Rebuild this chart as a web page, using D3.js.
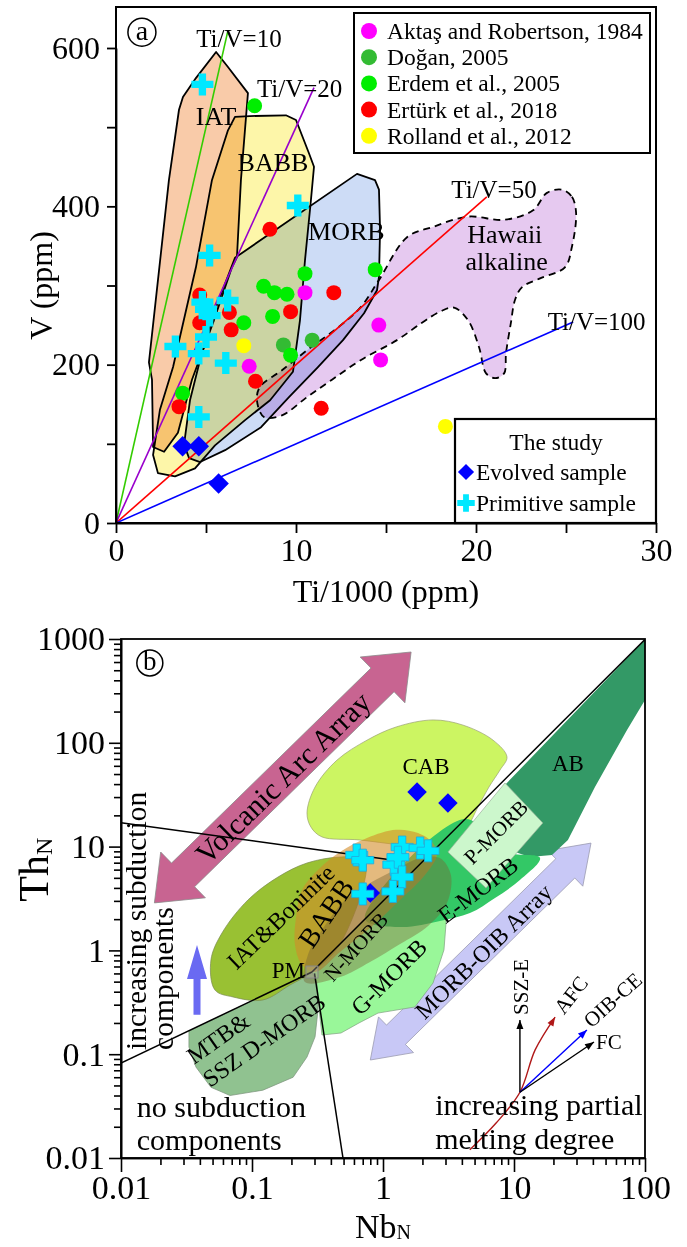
<!DOCTYPE html>
<html><head><meta charset="utf-8">
<script src="https://cdn.jsdelivr.net/npm/d3@7/dist/d3.min.js"></script>
<style>
body{margin:0;background:#fff;}
svg{display:block;}
</style></head><body>
<script>
// ================= PANEL (a) DATA : Ti/1000 (ppm) vs V (ppm) =================
const legendNamesA = ["Aktaş and Robertson, 1984","Doğan, 2005","Erdem et al., 2005","Ertürk et al., 2018","Rolland et al., 2012"];
const legendColorsA = ["#ff00ff","#33bb33","#00ee00","#ff0000","#ffff00"];
const aktas   = [[10.5,291],[14.6,250],[14.7,206],[7.4,198]];
const dogan   = [[9.3,225],[10.9,231]];
const erdem   = [[7.7,527],[10.5,315],[14.4,320],[8.2,299],[8.8,291],[9.5,289],[8.7,261],[7.1,253],[9.7,212],[3.7,164]];
const erturk  = [[8.55,371],[12.1,291],[9.7,267],[4.65,288],[6.3,266],[4.65,253],[6.4,244],[7.75,179],[3.5,147],[11.4,145]];
const rolland = [[7.1,224],[18.3,122]];
const evolvedA   = [[3.7,97],[4.6,97],[5.7,50]];
const primitiveA = [[4.8,554],[10.1,401],[5.2,338],[4.8,279],[6.2,281],[5.0,270],[5.2,262],[5.0,235],[3.3,223],[4.6,214],[6.1,202],[4.6,134]];
const xTicksA = [0,5,10,15,20,25,30];
const yTicksA = [0,100,200,300,400,500,600];
const tivRatios = [10,20,50,100];
const tivEndX   = [6.2,11.0,20.6,25.4];
const tivColors = ["#33cc00","#9900cc","#ff0000","#0000ff"];
const tivLabelPos = [[6.83,612],[10.2,549],[21.0,421],[26.7,254]];
const iatPoly = [[5.56,595],[6.22,576],[7.33,543],[6.94,433],[6.72,336],[6.44,323],[5.44,256],[4.22,181],[3.44,114],[2.67,90],[2.06,96],[2.0,181],[1.83,203],[2.94,433],[3.5,522],[3.72,538],[4.44,562]];
const babbPoly = [[6.61,513],[7.44,514],[9.44,515],[10.0,509],[10.72,467],[11.0,450],[10.83,408],[10.5,332],[10.22,256],[10.0,219],[9.83,191],[8.56,155],[7.17,130],[5.5,98],[4.39,69],[3.28,59],[2.33,63],[2.06,86],[2.44,143],[3.17,197],[4.44,323],[5.33,433],[6.22,496]];
const morbPoly = [[13.39,441],[14.39,433],[14.61,421],[14.67,370],[14.61,311],[14.5,294],[13.78,265],[12.61,231],[11.22,197],[9.61,159],[8.06,121],[6.06,92],[4.67,77],[4.06,82],[3.78,99],[4.11,155],[4.67,206],[5.5,269],[6.61,335]];
const hawaiiPoly = [[24.78,421],[25.33,412],[25.56,392],[25.33,349],[24.94,323],[23.56,309],[22.56,298],[22.17,282],[21.94,253],[21.67,215],[21.56,189],[21.06,183],[20.56,189],[20.17,222],[19.56,256],[18.78,272],[18.0,267],[17.0,253],[15.61,231],[13.61,206],[12.0,181],[10.61,159],[9.22,136],[8.22,134],[7.83,155],[8.0,172],[9.22,193],[10.83,222],[12.39,248],[13.61,273],[14.61,307],[16.17,361],[17.61,374],[19.56,387],[21.56,383],[23.17,395],[23.94,417]];
const regionLabelsA = [["IAT",5.56,513],["BABB",8.72,455],["MORB",12.8,368],["Hawaii",21.6,364],["alkaline",21.7,330]];

// ================= PANEL (b) DATA : NbN vs ThN (log-log) =================
const xTicksB = [0.01,0.1,1,10,100];
const yTicksB = [0.01,0.1,1,10,100,1000];
const primitiveB = [[0.63,8.3],[0.70,7.4],[1.40,9.9],[1.92,9.7],[2.21,9.1],[1.21,6.7],[1.30,7.9],[1.40,5.1],[0.70,3.5],[1.19,3.7]];
const evolvedB   = [[1.82,33.6],[3.13,26.3],[0.80,3.57]];
const cabPoly  = [[0.263,21.1],[0.303,37.5],[0.445,68],[0.755,106],[1.26,142],[2.41,166],[4.08,148],[6.92,106],[8.84,73],[7.82,54.7],[6.44,37.5],[5.31,24.1],[4.38,15.4],[3.36,11.6],[2.41,9.91],[1.35,10.4],[0.656,11.6],[0.342,12.4],[0.282,15.4]];
const abPoly   = [[100,990],[100,258],[72.9,133],[41.5,37.5],[25.8,11.6],[19.5,8.3],[13.2,7.94],[10.2,8.87],[7.82,35]];
const pmorbPoly= [[3.13,8.87],[8.53,41],[16.6,16.9],[6.11,3.99]];
const emorbPoly= [[4.23,18.4],[8.53,8.87],[15.8,7.76],[11.1,4.76],[7.16,3.2],[4.61,2.29],[2.72,1.92],[1.35,1.68],[0.729,2.01]];
const gmorbPoly= [[0.287,0.619],[2.97,11.6],[3.03,1.84],[2.92,1.01],[2.41,0.485],[1.75,0.285],[0.916,0.249],[0.656,0.2],[0.478,0.16],[0.342,0.153],[0.319,0.333]];
const nmorbPoly= [[0.254,0.496],[0.47,0.554],[0.796,0.773],[1.35,1.15],[2.21,1.72],[3.08,2.86],[3.30,5.32],[2.72,7.76],[1.92,7.76],[1.24,5.96],[0.796,4.46],[0.513,3.06],[0.342,1.57],[0.267,0.904]];
const mtbPoly  = [[0.033,0.167],[0.287,0.619],[0.313,0.485],[0.319,0.267],[0.303,0.147],[0.263,0.094],[0.206,0.060],[0.121,0.045],[0.068,0.040],[0.0486,0.048],[0.0374,0.075],[0.033,0.117]];
const iatbPoly = [[0.0522,0.415],[0.0486,0.81],[0.059,1.47],[0.0931,3.06],[0.158,5.09],[0.263,6.95],[0.478,7.94],[0.729,7.43],[0.47,1.15],[0.287,0.619],[0.195,0.464],[0.121,0.333],[0.0716,0.356]];
const babbbPoly= [[0.217,2.10],[0.241,3.82],[0.319,5.96],[0.47,8.87],[0.755,12.1],[1.26,14.5],[1.85,13.5],[2.41,10.8],[2.58,8.3],[2.09,5.32],[1.35,3.06],[0.796,1.64],[0.47,0.966],[0.303,0.619],[0.241,0.723],[0.213,1.13]];
const pmPoint = [0.287,0.619];
const lineUpper = [[0.01,17],[1.1,7.5]];
const lineLowerDiag = [[0.01,0.082],[0.287,0.619]];
const lineUpperDiag = [[0.287,0.619],[100,990]];
const lineDown = [[0.30,0.60],[0.495,0.01]];
const volcanicArrow = [[0.018,2.87],[1.64,750]];
const morbOibArrow  = [[0.80,0.088],[38.7,10.8]];
const subductionArrow = [[0.038,0.24],[0.038,1.13]];
const vecOrigin = [11.1,0.043];
const vecSSZE = [11.1,0.214];
const vecOIBCE = [36,0.171];
const vecFC = [40.8,0.131];
const vecAFC = [[4.6,0.012],[7.3,0.0217],[11.1,0.043],[14.5,0.11],[20.6,0.228]];
const regionLabelsB = [
  ["CAB",2.13,58.5,0,23],["AB",25.8,63.8,0,23],["P-MORB",7.3,13.8,-45,21],["E-MORB",5.31,3.82,-37,24],
  ["IAT&Boninite",0.166,2.1,-44,24],["BABB",0.367,2.29,-56,28],["N-MORB",0.622,1.08,-48,21],["G-MORB",1.11,0.554,-45,24]
];

// ================= DRAWING =================
const W=687,H=1247;
const svg=d3.select("body").append("svg").attr("width",W).attr("height",H)
  .style("font-family","'Liberation Serif','Times New Roman',serif");

// ---------- Panel a ----------
const xA=d3.scaleLinear().domain([0,30]).range([116,656]);
const yA=d3.scaleLinear().domain([0,600]).range([523,48]);
const topA=7;
svg.append("clipPath").attr("id","clipA").append("rect")
  .attr("x",xA(0)).attr("y",topA).attr("width",xA(30)-xA(0)).attr("height",yA(0)-topA);
const gA=svg.append("g").attr("clip-path","url(#clipA)").style("isolation","isolate");
const lineA=d3.line().x(d=>xA(d[0])).y(d=>yA(d[1]));
const polysA=[
  {p:iatPoly,fill:"#f9cba9",curve:d3.curveLinearClosed,dash:null},
  {p:babbPoly,fill:"#fdf6a9",curve:d3.curveLinearClosed,dash:null},
  {p:morbPoly,fill:"#cddcf6",curve:d3.curveLinearClosed,dash:null},
  {p:hawaiiPoly,fill:"#e6c9f0",curve:d3.curveCatmullRomClosed.alpha(0.5),dash:"7,5"}
];
polysA.forEach(o=>{
  gA.append("path").attr("d",lineA.curve(o.curve)(o.p)).attr("fill",o.fill)
    .attr("stroke","#000").attr("stroke-width",1.8).attr("stroke-dasharray",o.dash)
    .attr("stroke-linejoin","round").style("mix-blend-mode","multiply");
});
lineA.curve(d3.curveLinear);
tivRatios.forEach((r,i)=>{
  gA.append("path").attr("d",lineA([[0,0],[tivEndX[i],1000*tivEndX[i]/r]]))
    .attr("stroke",tivColors[i]).attr("stroke-width",1.6).attr("fill","none");
});
tivRatios.forEach((r,i)=>{
  svg.append("text").attr("x",xA(tivLabelPos[i][0])).attr("y",yA(tivLabelPos[i][1]))
    .attr("text-anchor","middle").attr("dominant-baseline","central").attr("font-size",25).text("Ti/V="+r);
});
regionLabelsA.forEach(l=>{
  gA.append("text").attr("x",xA(l[1])).attr("y",yA(l[2])).attr("text-anchor","middle")
    .attr("dominant-baseline","central").attr("font-size",26).text(l[0]);
});
const seriesA=[aktas,dogan,erdem,erturk,rolland];
seriesA.forEach((s,i)=>{
  gA.selectAll(null).data(s).enter().append("circle").attr("cx",d=>xA(d[0])).attr("cy",d=>yA(d[1]))
    .attr("r",7.5).attr("fill",legendColorsA[i]);
});
const crossSym=d3.symbol().type(d3.symbolCross).size(270);
const sqSym=d3.symbol().type(d3.symbolSquare).size(210);
gA.selectAll(null).data(primitiveA).enter().append("path").attr("d",crossSym)
  .attr("transform",d=>`translate(${xA(d[0])},${yA(d[1])})`).attr("fill","#00e8ff");
gA.selectAll(null).data(evolvedA).enter().append("path").attr("d",sqSym)
  .attr("transform",d=>`translate(${xA(d[0])},${yA(d[1])}) rotate(45)`).attr("fill","#0000ff");

const axAx=svg.append("g").attr("transform",`translate(0,${yA(0)})`)
  .call(d3.axisBottom(xA).tickValues(xTicksA).tickSize(10).tickSizeOuter(0).tickPadding(5)
  .tickFormat(d=>d%10===0?d:""));
const axAy=svg.append("g").attr("transform",`translate(${xA(0)},0)`)
  .call(d3.axisLeft(yA).tickValues(yTicksA).tickSize(9).tickSizeOuter(0).tickPadding(7)
  .tickFormat(d=>d%200===0?d:""));
[axAx,axAy].forEach(g=>{g.selectAll("text").attr("font-size",32).attr("font-family","'Liberation Serif',serif").attr("fill","#000");
  g.selectAll("line,path").attr("stroke","#000").attr("stroke-width",1.8);});
svg.append("rect").attr("x",xA(0)).attr("y",topA).attr("width",xA(30)-xA(0)).attr("height",yA(0)-topA)
  .attr("fill","none").attr("stroke","#000").attr("stroke-width",2);
svg.append("text").attr("x",(xA(0)+xA(30))/2).attr("y",602).attr("text-anchor","middle").attr("font-size",32).text("Ti/1000 (ppm)");
svg.append("text").attr("transform",`translate(52,${yA(300)}) rotate(-90)`).attr("text-anchor","middle").attr("font-size",32).text("V (ppm)");
svg.append("circle").attr("cx",xA(1.44)).attr("cy",yA(620)).attr("r",14).attr("fill","none").attr("stroke","#000").attr("stroke-width",1.5);
svg.append("text").attr("x",xA(1.44)).attr("y",yA(620)).attr("text-anchor","middle").attr("dominant-baseline","central").attr("font-size",28).attr("dy",-2).text("a");

const lg=svg.append("g");
lg.append("rect").attr("x",354).attr("y",13).attr("width",296).attr("height",140).attr("fill","#fff").attr("stroke","#000").attr("stroke-width",2);
legendNamesA.forEach((n,i)=>{
  lg.append("circle").attr("cx",369).attr("cy",31+i*26.2).attr("r",8).attr("fill",legendColorsA[i]);
  lg.append("text").attr("x",387).attr("y",31+i*26.2).attr("dominant-baseline","central").attr("font-size",23.5).text(n);
});
const sg=svg.append("g");
sg.append("rect").attr("x",455).attr("y",419).attr("width",xA(30)-455).attr("height",yA(0)-419).attr("fill","#fff").attr("stroke","#000").attr("stroke-width",2.2);
sg.append("text").attr("x",556).attr("y",442).attr("text-anchor","middle").attr("dominant-baseline","central").attr("font-size",23.5).text("The study");
sg.append("path").attr("d",d3.symbol().type(d3.symbolSquare).size(130)).attr("transform","translate(466,472) rotate(45)").attr("fill","#0000ff");
sg.append("text").attr("x",476).attr("y",472).attr("dominant-baseline","central").attr("font-size",23.5).text("Evolved sample");
sg.append("path").attr("d",d3.symbol().type(d3.symbolCross).size(170)).attr("transform","translate(466,503)").attr("fill","#00e8ff");
sg.append("text").attr("x",476).attr("y",503).attr("dominant-baseline","central").attr("font-size",23.5).text("Primitive sample");

// ---------- Panel b ----------
const xB=d3.scaleLog().domain([0.01,100]).range([121,645]);
const yB=d3.scaleLog().domain([0.01,1000]).range([1158,639]);
svg.append("clipPath").attr("id","clipB").append("rect")
  .attr("x",xB(0.01)).attr("y",yB(1000)).attr("width",xB(100)-xB(0.01)).attr("height",yB(0.01)-yB(1000));
const gB=svg.append("g").attr("clip-path","url(#clipB)");
const lineB=d3.line().x(d=>xB(d[0])).y(d=>yB(d[1]));
const P=d=>[xB(d[0]),yB(d[1])];

function arrowPath(p0,p1,shaftW,headW,headL,dbl){
  const dx=p1[0]-p0[0],dy=p1[1]-p0[1],L=Math.hypot(dx,dy);
  const ux=dx/L,uy=dy/L,nx=-uy,ny=ux;
  const Q=(p,a,b)=>[p[0]+ux*a+nx*b,p[1]+uy*a+ny*b];
  const pts=[];
  if(dbl){pts.push(p0,Q(p0,headL,headW/2),Q(p0,headL,shaftW/2));}
  else pts.push(Q(p0,0,shaftW/2));
  pts.push(Q(p1,-headL,shaftW/2),Q(p1,-headL,headW/2),p1,Q(p1,-headL,-headW/2),Q(p1,-headL,-shaftW/2));
  if(dbl){pts.push(Q(p0,headL,-shaftW/2),Q(p0,headL,-headW/2));}
  else pts.push(Q(p0,0,-shaftW/2));
  return "M"+pts.map(p=>p[0].toFixed(1)+","+p[1].toFixed(1)).join("L")+"Z";
}
function angleOf(a,b){const p0=P(a),p1=P(b);return Math.atan2(p1[1]-p0[1],p1[0]-p0[0])*180/Math.PI;}

gB.append("path").attr("d",arrowPath(P(volcanicArrow[0]),P(volcanicArrow[1]),33,64,40,true))
  .attr("fill","#c86491").attr("stroke","#8a8a8a").attr("stroke-width",0.8);
gB.append("path").attr("d",arrowPath(P(morbOibArrow[0]),P(morbOibArrow[1]),27,50,36,true))
  .attr("fill","#c8c8f6").attr("stroke","#9a9ab0").attr("stroke-width",0.8);
gB.append("path").attr("d",arrowPath(P(subductionArrow[0]),P(subductionArrow[1]),7,20,34,false))
  .attr("fill","#6a6af2");

const polysB=[
  {p:cabPoly,fill:"#ccf562",c:d3.curveCatmullRomClosed.alpha(0.5),s:"#9aa070"},
  {p:gmorbPoly,fill:"#99f799",c:d3.curveLinearClosed,s:"#80a080"},
  {p:abPoly,fill:"#339966",c:d3.curveLinearClosed,s:"none"},
  {p:emorbPoly,fill:"#33c866",c:d3.curveCatmullRomClosed.alpha(0.5),s:"none"},
  {p:pmorbPoly,fill:"#ccf7cc",c:d3.curveLinearClosed,s:"#9ab09a"},
  {p:mtbPoly,fill:"#90c290",c:d3.curveLinearClosed,s:"#7a907a"},
  {p:iatbPoly,fill:"#99c133",c:d3.curveCatmullRomClosed.alpha(0.5),s:"#7a8a50"},
  {p:babbbPoly,fill:"rgba(210,140,40,0.6)",c:d3.curveCatmullRomClosed.alpha(0.5),s:"none"},
  {p:nmorbPoly,fill:"rgba(120,100,50,0.42)",c:d3.curveCatmullRomClosed.alpha(0.5),s:"none"}
];
polysB.forEach(o=>{
  gB.append("path").attr("d",lineB.curve(o.c)(o.p)).attr("fill",o.fill).attr("stroke",o.s).attr("stroke-width",0.7);
});
lineB.curve(d3.curveLinear);
[lineUpper,lineLowerDiag,lineUpperDiag,lineDown].forEach(l=>{
  gB.append("path").attr("d",lineB(l)).attr("stroke","#000").attr("stroke-width",1.5).attr("fill","none");
});
gB.append("rect").attr("x",xB(pmPoint[0])-6).attr("y",yB(pmPoint[1])-6).attr("width",12).attr("height",12)
  .attr("fill","rgba(200,200,200,0.3)").attr("stroke","#888").attr("stroke-width",1);

const tB=(x,y,txt,rot,fs,anchor)=>gB.append("text")
  .attr("transform",`translate(${xB(x)},${yB(y)}) rotate(${rot})`)
  .attr("text-anchor",anchor||"middle").attr("dominant-baseline","central").attr("font-size",fs).text(txt);
regionLabelsB.forEach(l=>tB(l[1],l[2],l[0],l[3],l[4]));
(function(){
  const m=[ (P(volcanicArrow[0])[0]+P(volcanicArrow[1])[0])/2,(P(volcanicArrow[0])[1]+P(volcanicArrow[1])[1])/2];
  gB.append("text").attr("transform",`translate(${m[0]},${m[1]}) rotate(${angleOf(volcanicArrow[0],volcanicArrow[1])})`)
   .attr("text-anchor","middle").attr("dominant-baseline","central").attr("font-size",30).text("Volcanic Arc Array");
  const n=[ (P(morbOibArrow[0])[0]+P(morbOibArrow[1])[0])/2+3,(P(morbOibArrow[0])[1]+P(morbOibArrow[1])[1])/2];
  gB.append("text").attr("transform",`translate(${n[0]},${n[1]}) rotate(${angleOf(morbOibArrow[0],morbOibArrow[1])})`)
   .attr("text-anchor","middle").attr("dominant-baseline","central").attr("font-size",24).text("MORB-OIB Array");
})();
const mtbT=gB.append("text").attr("transform",`translate(${xB(0.036)},${yB(0.0787)}) rotate(-35)`).attr("font-size",24);
mtbT.append("tspan").attr("x",0).attr("dy",0).text("MTB&");
mtbT.append("tspan").attr("x",0).attr("dy",28).text("SSZ D-MORB");
gB.append("text").attr("x",xB(0.254)).attr("y",yB(0.542)).attr("text-anchor","end").attr("font-size",23).text("PM");
gB.append("text").attr("transform",`translate(${xB(0.0155)},${yB(0.11)}) rotate(-90)`).attr("font-size",29.5).text("increasing subduction");
gB.append("text").attr("transform",`translate(${xB(0.0249)},${yB(0.11)}) rotate(-90)`).attr("font-size",29.5).text("components");
gB.append("text").attr("x",xB(0.0132)).attr("y",yB(0.0248)).attr("font-size",30).text("no subduction");
gB.append("text").attr("x",xB(0.0132)).attr("y",yB(0.0248)+33).attr("font-size",30).text("components");
gB.append("path").attr("d",lineB.curve(d3.curveCatmullRom.alpha(0.5))(vecAFC)).attr("stroke","#b01818").attr("stroke-width",1.4).attr("fill","none");
lineB.curve(d3.curveLinear);
(function(){
  const a=P(vecAFC[vecAFC.length-2]),b=P(vecAFC[vecAFC.length-1]);
  gB.append("path").attr("d",arrowPath([b[0]-(b[0]-a[0])*0.3,b[1]-(b[1]-a[1])*0.3],b,0.1,7,9,false)).attr("fill","#b01818");
})();
[[vecSSZE,"#000"],[vecOIBCE,"#0000ff"],[vecFC,"#000"]].forEach(v=>{
  const o=P(vecOrigin),e=P(v[0]);
  gB.append("path").attr("d",lineB([vecOrigin,v[0]])).attr("stroke",v[1]).attr("stroke-width",1.4).attr("fill","none");
  gB.append("path").attr("d",arrowPath(o,e,0.1,7,9,false)).attr("fill",v[1]);
});
gB.append("text").attr("transform",`translate(${xB(11.1)+8},${yB(0.214)-33}) rotate(-90)`).attr("text-anchor","middle").attr("font-size",21).text("SSZ-E");
gB.append("text").attr("transform",`translate(${xB(20.6)+16},${yB(0.228)-22}) rotate(-52)`).attr("text-anchor","middle").attr("dominant-baseline","central").attr("font-size",21).text("AFC");
gB.append("text").attr("transform",`translate(${xB(36)+26},${yB(0.171)-30}) rotate(-42)`).attr("text-anchor","middle").attr("dominant-baseline","central").attr("font-size",21).text("OIB-CE");
gB.append("text").attr("x",xB(40.8)+2).attr("y",yB(0.131)).attr("dominant-baseline","central").attr("font-size",21).text("FC");
gB.append("text").attr("x",xB(2.5)).attr("y",yB(0.026)).attr("font-size",30).text("increasing partial");
gB.append("text").attr("x",xB(2.5)).attr("y",yB(0.026)+34).attr("font-size",30).text("melting degree");

gB.selectAll(null).data(evolvedB).enter().append("path").attr("d",d3.symbol().type(d3.symbolSquare).size(190))
  .attr("transform",d=>`translate(${xB(d[0])},${yB(d[1])}) rotate(45)`).attr("fill","#0000ff");
gB.selectAll(null).data(primitiveB).enter().append("path").attr("d",crossSym)
  .attr("transform",d=>`translate(${xB(d[0])},${yB(d[1])})`).attr("fill","#00e8ff").attr("stroke","#22a8dd").attr("stroke-width",0.8);

// axes b
const minorBx=[];for(let e=-2;e<2;e++)for(let k=2;k<10;k++)minorBx.push(k*Math.pow(10,e));
const minorBy=[];for(let e=-2;e<3;e++)for(let k=2;k<10;k++)minorBy.push(k*Math.pow(10,e));
const fmt=d=>({0.01:"0.01",0.1:"0.1",1:"1",10:"10",100:"100",1000:"1000"})[d];
const bx1=svg.append("g").attr("transform",`translate(0,${yB(0.01)})`)
  .call(d3.axisBottom(xB).tickValues(xTicksB).tickSize(14).tickSizeOuter(0).tickPadding(3).tickFormat(fmt));
const bx2=svg.append("g").attr("transform",`translate(0,${yB(0.01)})`)
  .call(d3.axisBottom(xB).tickValues(minorBx).tickSize(7).tickSizeOuter(0).tickFormat(""));
const by1=svg.append("g").attr("transform",`translate(${xB(0.01)},0)`)
  .call(d3.axisLeft(yB).tickValues(yTicksB).tickSize(12).tickSizeOuter(0).tickPadding(4).tickFormat(fmt));
const by2=svg.append("g").attr("transform",`translate(${xB(0.01)},0)`)
  .call(d3.axisLeft(yB).tickValues(minorBy).tickSize(7).tickSizeOuter(0).tickFormat(""));
[bx1,bx2,by1,by2].forEach(g=>{g.selectAll("text").attr("font-size",34).attr("font-family","'Liberation Serif',serif").attr("fill","#000");
  g.selectAll("line,path").attr("stroke","#000").attr("stroke-width",1.6);});
svg.append("rect").attr("x",xB(0.01)).attr("y",yB(1000)).attr("width",xB(100)-xB(0.01)).attr("height",yB(0.01)-yB(1000))
  .attr("fill","none").attr("stroke","#000").attr("stroke-width",1.8);
const tx=svg.append("text").attr("x",(xB(0.01)+xB(100))/2).attr("y",1238).attr("text-anchor","middle").attr("font-size",34);
tx.append("tspan").text("Nb");
tx.append("tspan").attr("font-size",20).attr("dy",1).text("N");
const ty=svg.append("text").attr("transform",`translate(48,${yB(6)}) rotate(-90)`).attr("text-anchor","middle").attr("font-size",42);
ty.append("tspan").text("Th");
ty.append("tspan").attr("font-size",24).attr("dy",4).text("N");
svg.append("circle").attr("cx",xB(0.0166)).attr("cy",yB(588)).attr("r",13).attr("fill","none").attr("stroke","#000").attr("stroke-width",1.5);
svg.append("text").attr("x",xB(0.0166)).attr("y",yB(588)).attr("text-anchor","middle").attr("dominant-baseline","central").attr("font-size",27).attr("dy",-2).text("b");
</script>
</body></html>
